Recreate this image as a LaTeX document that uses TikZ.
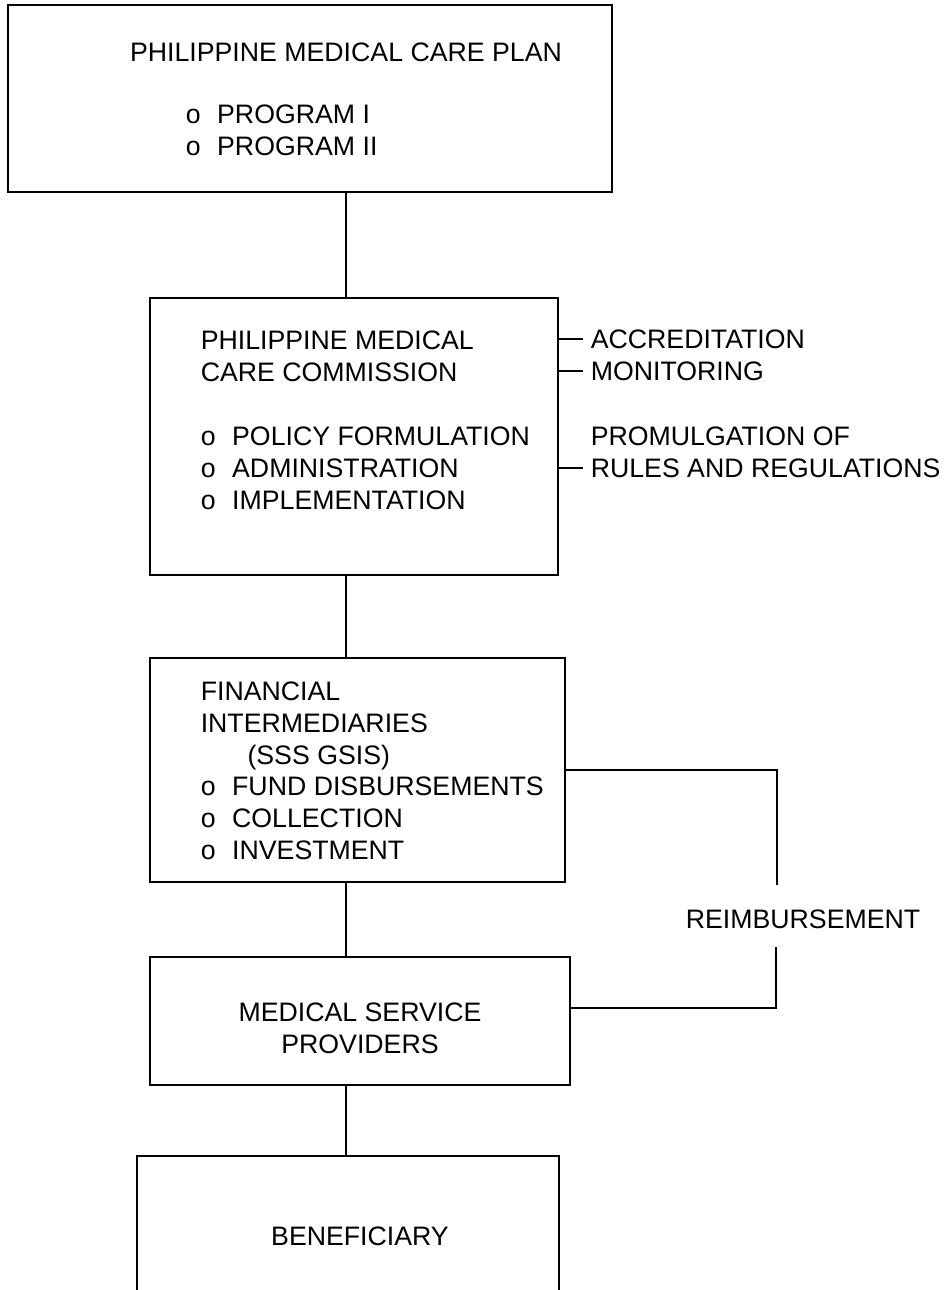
\documentclass[tikz,border=0pt]{standalone}
\usepackage{fontspec}
\setmainfont{Liberation Sans}
\usetikzlibrary{calc,positioning}

\newcommand{\bulo}{o\hspace{0.62em}}

\begin{document}
\begin{tikzpicture}[x=0.02cm,y=-0.02cm,line width=0.9pt,
		font=\fontsize{15.2}{18.1}\selectfont]
		\tikzstyle{box}=[draw,rectangle,inner sep=0pt]
		\tikzstyle{txt}=[inner sep=0pt,anchor=north west,align=left]
		\useasboundingbox (0,0) rectangle (947,1290);
		% boxes
		\node[box,minimum width=12.08cm,minimum height=3.74cm] (plan) at (310,98.5) {};
		\node[box,minimum width=8.16cm,minimum height=5.54cm] (comm) at (354,436.5) {};
		\node[box,minimum width=8.3cm,minimum height=4.48cm] (fin) at (357.5,770) {};
		\node[box,minimum width=8.4cm,minimum height=2.56cm] (med) at (360,1021) {};
		\node[inner sep=0pt,minimum width=8.4cm,minimum height=2.66cm] (ben) at (348,1223.5) {};
		\draw (ben.south west) |- (ben.north east) -- (ben.south east);
		% texts
		\node[txt,anchor=north] (plantitle) at (346,42) {PHILIPPINE MEDICAL CARE PLAN};
		\node[txt] (prog) at (185,104) {\bulo PROGRAM I\\ \bulo PROGRAM II};
		\node[txt] (commtitle) at (200,330) {PHILIPPINE MEDICAL\\CARE COMMISSION};
		\node[txt] (commtasks) at (200,426) {\bulo POLICY FORMULATION\\ \bulo ADMINISTRATION\\ \bulo IMPLEMENTATION};
		\node[txt] (fintitle) at (200,681) {FINANCIAL\\INTERMEDIARIES\\ \hspace{1.75em}(SSS GSIS)\\
			\bulo FUND DISBURSEMENTS\\ \bulo COLLECTION\\ \bulo INVESTMENT};
		\node[txt,align=center,anchor=north] (medtxt) at (360,1002) {MEDICAL SERVICE\\PROVIDERS};
		\node[inner sep=0pt] (bentxt) at (360,1236) {BENEFICIARY};
		% side functions
		\node[txt,anchor=west] (acc) at (590,339) {ACCREDITATION};
		\node[txt,anchor=west] (mon) at (590,371) {MONITORING};
		\node[txt,anchor=west] (prom) at (590,436) {PROMULGATION OF};
		\node[txt,anchor=west] (rules) at (590,468) {RULES AND REGULATIONS};
		\foreach \f in {acc,mon,rules}
			\draw (comm.east |- \f.west) -- ([xshift=-0.14cm]\f.west);
		% spine
		\coordinate (spine) at (346,0);
		\draw (plan.south -| spine) -- (comm.north -| spine);
		\draw (comm.south -| spine) -- (fin.north -| spine);
		\draw (fin.south -| spine) -- (med.north -| spine);
		\draw (med.south -| spine) -- (ben.north -| spine);
		% reimbursement loop
		\node[inner sep=0pt] (reimb) at (803,919) {REIMBURSEMENT};
		\coordinate (rtop) at (777,885);
		\coordinate (rbot) at (776,947);
		\draw (fin.east) -| (rtop);
		\draw (rbot) |- ($(med.north east)!0.4!(med.south east)$);
	\end{tikzpicture}
\end{document}
